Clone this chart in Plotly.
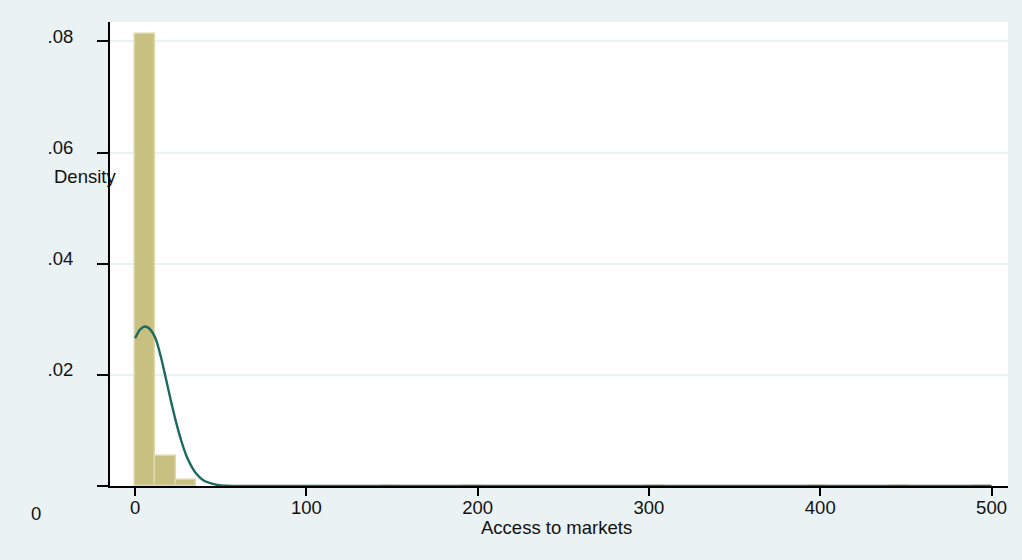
import plotly.graph_objects as go

# ---- data ----
bin_width = 11.9
bin_index = [0, 1, 2, 12, 16, 25, 33, 37, 41]
bin_density = [0.0813, 0.00543, 0.00103, 0.00008, 0.00008, 0.00008, 0.00008, 0.00008, 0.00008]

curve_x = [0, 3, 6, 9, 12, 15, 18, 21, 24, 27, 30, 33, 36, 40, 44, 48, 53, 60, 80, 100, 200, 300, 400, 500]
curve_y = [0.0266, 0.0282, 0.0287, 0.0281, 0.0265, 0.0233, 0.0193, 0.0152, 0.0114, 0.0081,
           0.0054, 0.0035, 0.0021, 0.0010, 0.0005, 0.0002, 0.00005, 0.00001, 0, 0, 0, 0, 0, 0]

x_ticks = [0, 100, 200, 300, 400, 500]
x_ticktext = ["0", "100", "200", "300", "400", "500"]
y_ticks = [0, 0.02, 0.04, 0.06, 0.08]
y_ticktext = ["", ".02", ".04", ".06", ".08"]

x_title = "Access to markets"
y_title = "Density"

BG = "#eaf2f3"
FONT = "Liberation Sans, Arial, Helvetica, sans-serif"
FS = 18.5

bar_x = [i * bin_width + bin_width / 2 for i in bin_index]

fig = go.Figure()
fig.add_trace(go.Bar(
    x=bar_x, y=bin_density, width=bin_width,
    marker=dict(color="rgb(200,192,128)", line=dict(color="rgb(220,214,168)", width=1.5)),
    showlegend=False,
))
fig.add_trace(go.Scatter(
    x=curve_x, y=curve_y, mode="lines",
    line=dict(color="#1d6a60", width=2.4, shape="spline", smoothing=0.8),
    showlegend=False,
))

fig.update_layout(
    width=1022, height=560,
    margin=dict(l=110, r=14, t=22, b=74),
    paper_bgcolor=BG, plot_bgcolor="white",
    font=dict(family=FONT, size=FS, color="#111111"),
    bargap=0,
    xaxis=dict(
        range=[-14.65, 509.6], tickvals=x_ticks, ticktext=x_ticktext,
        showgrid=False, zeroline=False,
        showline=True, linecolor="black", linewidth=2,
        ticks="outside", ticklen=8, tickwidth=1.5, tickcolor="black",
        ticklabelstandoff=-4,
    ),
    yaxis=dict(
        range=[0, 0.0835], tickvals=y_ticks, ticktext=y_ticktext,
        showgrid=True, gridcolor=BG, gridwidth=1.5, zeroline=False,
        showline=True, linecolor="black", linewidth=2,
        ticks="outside", ticklen=11, tickwidth=1.5, tickcolor="black",
        ticklabelstandoff=20, ticklabelshift=-5,
    ),
)

# pixel-placed annotations converted to paper coords
W, H = 1022, 560
L, R, T, B = 110, 14, 22, 74
pw, ph = W - L - R, H - T - B
ann_pix = [(x_title, 556, 527), (y_title, 85, 176), ("0", 36, 513)]
fig.update_layout(annotations=[
    dict(text=t, xref="paper", yref="paper",
         x=(px - L) / pw, y=(H - B - py) / ph,
         xanchor="center", yanchor="middle", showarrow=False,
         font=dict(family=FONT, size=FS, color="#111111"))
    for t, px, py in ann_pix
])

fig.write_html("out.html")
